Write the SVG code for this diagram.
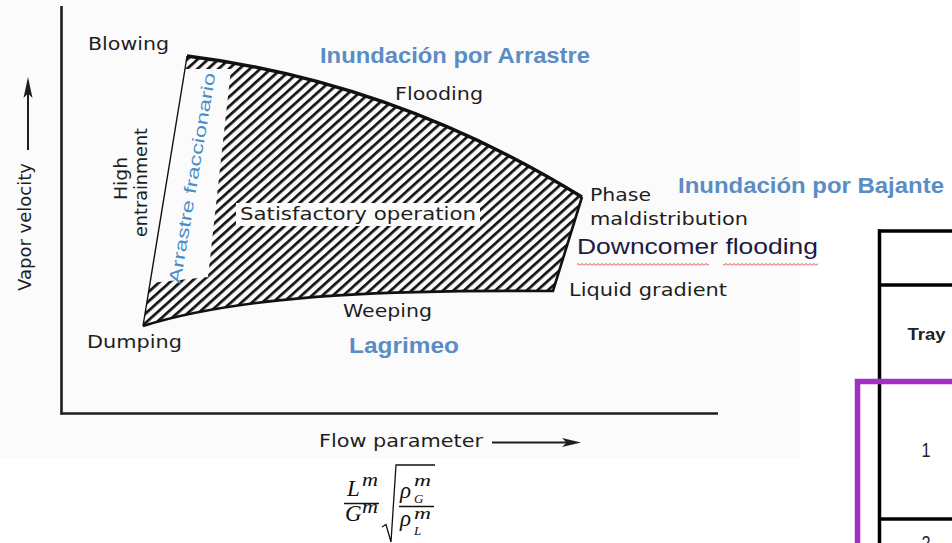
<svg xmlns="http://www.w3.org/2000/svg" width="952" height="543" viewBox="0 0 952 543">
<style>
.lbl{font-family:"DejaVu Sans","Liberation Sans",sans-serif;font-size:18px;fill:#1e1e1e}
.blue{font-family:"Liberation Sans","Open Sans",sans-serif;font-weight:bold;font-size:22px;fill:#5b8cc4}
.ax{stroke:#1e1e1e;stroke-width:2.6;fill:none}
.math{font-family:"Liberation Serif","DejaVu Serif",serif;font-style:italic;fill:#111}
.tbl{stroke:#000;stroke-width:3.5;fill:none}
.tt{font-family:"Liberation Sans",Arial,sans-serif;fill:#222}
</style>
<defs>
<pattern id="hatch" patternUnits="userSpaceOnUse" width="8" height="7" patternTransform="rotate(-42)">
<rect x="0" y="0" width="8" height="2.7" fill="#111"/>
</pattern>
<pattern id="squiggle" patternUnits="userSpaceOnUse" x="0" y="262" width="4" height="5">
<path d="M0,3.5 L2,1.5 L4,3.5" fill="none" stroke="#e03a3a" stroke-width="1"/>
</pattern>
<clipPath id="regionClip">
<path d="M143,326 L185,69 L187,56 Q395.5,82 582,197 L553,291 C420,290 250,292 143,326 Z"/>
</clipPath>
</defs>

<rect x="0" y="0" width="952" height="543" fill="#ffffff"/>
<rect x="0" y="0" width="800" height="458" fill="#fbfbfb"/>

<g id="axes">
<line class="ax" x1="61.5" y1="6" x2="61.5" y2="414.5"/>
<line class="ax" x1="60.5" y1="413.5" x2="718" y2="413.5"/>
</g>

<g id="operating-region">
<path d="M143,326 L185,69 L187,56 Q395.5,82 582,197 L553,291 C420,290 250,292 143,326 Z" fill="url(#hatch)"/>
<g clip-path="url(#regionClip)">
<polygon points="183,69 231,69 208,277 150,283" fill="#fbfbfb"/>
<rect x="236" y="203" width="244" height="23" fill="#fbfbfb"/>
</g>
<path d="M187,56 Q395.5,82 582,197" fill="none" stroke="#111" stroke-width="3.4"/>
<path d="M582,197 L553,291 C420,290 250,292 143,326" fill="none" stroke="#111" stroke-width="2.6"/>
<path d="M143,326 L185,69 L187,56" fill="none" stroke="#111" stroke-width="1.4"/>
</g>

<g id="labels">
<text class="lbl" x="88" y="50" textLength="81" lengthAdjust="spacingAndGlyphs">Blowing</text>
<text class="lbl" x="395" y="100" textLength="88" lengthAdjust="spacingAndGlyphs">Flooding</text>
<text class="lbl" x="240" y="220" textLength="236" lengthAdjust="spacingAndGlyphs">Satisfactory operation</text>
<text class="lbl" x="590" y="201" textLength="61" lengthAdjust="spacingAndGlyphs">Phase</text>
<text class="lbl" x="590" y="225" textLength="158" lengthAdjust="spacingAndGlyphs">maldistribution</text>
<text class="lbl" x="569" y="296" textLength="158" lengthAdjust="spacingAndGlyphs">Liquid gradient</text>
<text class="lbl" x="343" y="317" textLength="89" lengthAdjust="spacingAndGlyphs">Weeping</text>
<text class="lbl" x="87" y="348" textLength="95" lengthAdjust="spacingAndGlyphs">Dumping</text>
<text class="lbl" x="319" y="447" textLength="164" lengthAdjust="spacingAndGlyphs">Flow parameter</text>
<text class="lbl" style="font-size:17px" transform="translate(31,227) rotate(-90)" text-anchor="middle" textLength="128" lengthAdjust="spacingAndGlyphs">Vapor velocity</text>
<text class="lbl" style="font-size:17px" transform="translate(127,178.5) rotate(-90)" text-anchor="middle" textLength="43" lengthAdjust="spacingAndGlyphs">High</text>
<text class="lbl" style="font-size:17px" transform="translate(147,182.5) rotate(-90)" text-anchor="middle" textLength="109" lengthAdjust="spacingAndGlyphs">entrainment</text>
</g>

<g id="axis-arrows">
<line x1="28" y1="150" x2="28" y2="88" stroke="#1e1e1e" stroke-width="2"/>
<path d="M28,77 L23.5,98 L28,93.5 L32.5,98 Z" fill="#1e1e1e"/>
<line x1="492" y1="442.5" x2="570" y2="442.5" stroke="#1e1e1e" stroke-width="2"/>
<path d="M581,442.5 L562,438 L566.5,442.5 L562,447 Z" fill="#1e1e1e"/>
</g>

<g id="annotations">
<text class="blue" x="320" y="63" textLength="270" lengthAdjust="spacingAndGlyphs">Inundación por Arrastre</text>
<text class="blue" x="678" y="193" textLength="266" lengthAdjust="spacingAndGlyphs">Inundación por Bajante</text>
<text class="blue" x="349" y="353" textLength="110" lengthAdjust="spacingAndGlyphs">Lagrimeo</text>
<text transform="translate(192.5,178) rotate(-80.5)" text-anchor="middle" dominant-baseline="central" style="font-family:'Liberation Sans','Open Sans',sans-serif;font-size:17px;fill:#4a8dc9" textLength="213" lengthAdjust="spacingAndGlyphs">Arrastre fraccionario</text>
<text x="577" y="254" style="font-family:'Liberation Sans','Open Sans',sans-serif;font-size:22px;fill:#1b1b45" textLength="241" lengthAdjust="spacingAndGlyphs">Downcomer flooding</text>
<rect x="577" y="262" width="132" height="5" fill="url(#squiggle)"/>
<rect x="723" y="262" width="95" height="5" fill="url(#squiggle)"/>
</g>

<g id="formula">
<text class="math" x="347" y="496" style="font-size:23px">L</text>
<text class="math" x="362" y="486" style="font-size:18px" textLength="16" lengthAdjust="spacingAndGlyphs">m</text>
<line x1="344" y1="503.5" x2="379" y2="503.5" stroke="#111" stroke-width="1.3"/>
<text class="math" x="345" y="521" style="font-size:23px">G</text>
<text class="math" x="362" y="513" style="font-size:18px" textLength="16" lengthAdjust="spacingAndGlyphs">m</text>
<path d="M382,527 L386,524.5 L391,542 L396,465 L435,465" fill="none" stroke="#111" stroke-width="1.3"/>
<text class="math" x="400" y="498" style="font-size:23px">ρ</text>
<text class="math" x="414" y="486" style="font-size:16px" textLength="17" lengthAdjust="spacingAndGlyphs">m</text>
<text class="math" x="414" y="503" style="font-size:13px">G</text>
<line x1="399" y1="506.5" x2="434" y2="506.5" stroke="#111" stroke-width="1.3"/>
<text class="math" x="400" y="526" style="font-size:23px">ρ</text>
<text class="math" x="414" y="519" style="font-size:16px" textLength="17" lengthAdjust="spacingAndGlyphs">m</text>
<text class="math" x="414" y="535" style="font-size:13px">L</text>
</g>

<g id="table">
<line class="tbl" x1="879.5" y1="229.5" x2="879.5" y2="543"/>
<line class="tbl" x1="878" y1="231" x2="952" y2="231"/>
<line class="tbl" x1="878" y1="285" x2="952" y2="285"/>
<line class="tbl" x1="878" y1="519" x2="952" y2="519"/>
<text class="tt" x="926.5" y="340" text-anchor="middle" style="font-size:17px;font-weight:bold" textLength="38" lengthAdjust="spacingAndGlyphs">Tray</text>
<text class="tt" x="926" y="457" text-anchor="middle" style="font-size:20px" textLength="9" lengthAdjust="spacingAndGlyphs">1</text>
<text class="tt" x="926" y="550" text-anchor="middle" style="font-size:20px" textLength="9" lengthAdjust="spacingAndGlyphs">2</text>
<path d="M952,381.5 L857.5,381.5 L857.5,543" fill="none" stroke="#a22fc2" stroke-width="5.5"/>
</g>
</svg>
